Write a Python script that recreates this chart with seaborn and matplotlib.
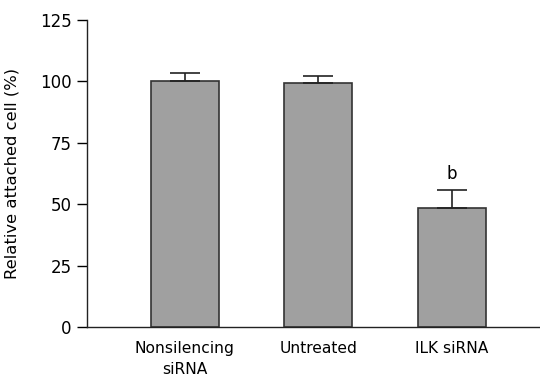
import matplotlib
matplotlib.use("Agg")
import matplotlib.pyplot as plt
import seaborn as sns
import pandas as pd

groups = ["Nonsilencing\nsiRNA", "Untreated", "ILK siRNA"]
attached = [100.3, 99.2, 48.6]
err_up = [3.0, 2.8, 7.1]
marks = ["", "", "b"]

df = pd.DataFrame({"group": groups, "attached": attached})

sns.set_style("ticks")
plt.rcParams["font.family"] = ["DejaVu Sans"]
plt.rcParams["text.color"] = "black"
plt.rcParams["xtick.color"] = "black"
plt.rcParams["ytick.color"] = "black"
plt.rcParams["axes.labelcolor"] = "black"

fig = plt.figure(figsize=(5.4, 3.83), dpi=100)
ax = fig.add_axes([0.161, 0.146, 0.839, 0.802])

sns.barplot(data=df, x="group", y="attached", color="#a0a0a0", width=0.51,
            edgecolor="#333333", linewidth=1.2, saturation=1, errorbar=None, ax=ax)
ax.errorbar(range(len(groups)), attached, yerr=[[0] * len(groups), err_up],
            fmt="none", ecolor="#222222", elinewidth=1.2, capsize=11, capthick=1.2)
for i, m in enumerate(marks):
    if m:
        ax.text(i, attached[i] + err_up[i] + 3, m, ha="center", va="bottom", fontsize=12)

ax.set_xlim(-0.734, 2.66)
ax.set_ylim(0, 125)
ax.set_yticks([0, 25, 50, 75, 100, 125])
ax.tick_params(axis="y", length=7, width=1, labelsize=12, pad=4)
ax.tick_params(axis="x", length=0, labelsize=11.2, pad=10)
for lbl in ax.get_xticklabels():
    lbl.set_linespacing(1.5)
ax.set_xlabel("")
ax.set_ylabel("Relative attached cell (%)", fontsize=11.8, labelpad=15)
sns.despine(ax=ax)
for s in ["left", "bottom"]:
    ax.spines[s].set_linewidth(1)
    ax.spines[s].set_color("#222222")

fig.savefig("out.png", dpi=100)
